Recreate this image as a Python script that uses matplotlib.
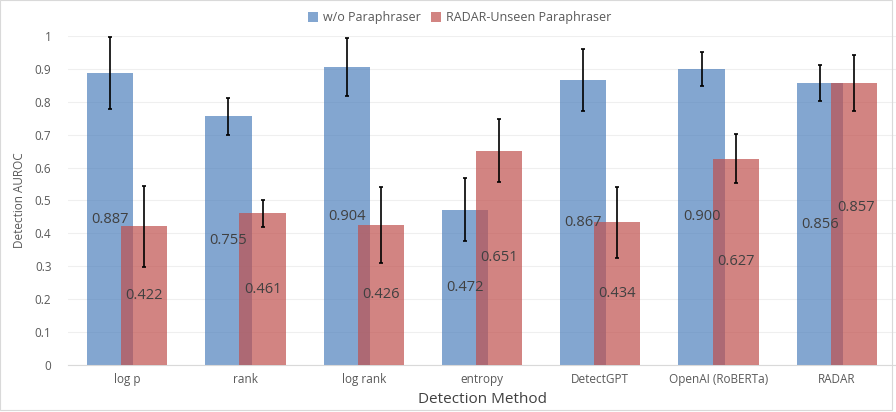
import numpy as np
import matplotlib.pyplot as plt
from matplotlib.patches import Rectangle

plt.rcParams["font.family"] = ["Open Sans", "DejaVu Sans"]

methods = ["log p", "rank", "log rank", "entropy", "DetectGPT", "OpenAI (RoBERTa)", "RADAR"]
wo_para = [0.887, 0.755, 0.904, 0.472, 0.867, 0.900, 0.856]
wo_para_err = [0.108, 0.055, 0.088, 0.095, 0.094, 0.052, 0.055]
radar_unseen = [0.422, 0.461, 0.426, 0.651, 0.434, 0.627, 0.857]
radar_unseen_err = [0.123, 0.041, 0.115, 0.096, 0.108, 0.075, 0.086]

blue = "#4F81BD"
red = "#C0504D"
text_col = "#404040"

fig = plt.figure(figsize=(8.96, 4.12), dpi=100)
ax = fig.add_axes([0.076, 0.114, 0.924, 0.799])

x = np.arange(len(methods))
w = 0.39
off = 0.144

ax.bar(x - off, wo_para, w, color=blue, alpha=0.7, label="w/o Paraphraser", zorder=2)
ax.bar(x + off, radar_unseen, w, color=red, alpha=0.7, label="RADAR-Unseen Paraphraser", zorder=3)
ax.errorbar(x - off, wo_para, yerr=wo_para_err, fmt="none", ecolor="black",
            elinewidth=1.2, capsize=1.5, capthick=1.2, zorder=4)
ax.errorbar(x + off, radar_unseen, yerr=radar_unseen_err, fmt="none", ecolor="black",
            elinewidth=1.2, capsize=1.5, capthick=1.2, zorder=4)

for xi, v in zip(x - off, wo_para):
    ax.text(xi, v / 2, f"{v:.3f}", ha="center", va="center", fontsize=10.5, color=text_col, zorder=5)
for xi, v, vb in zip(x + off, radar_unseen, wo_para):
    yl = v / 2
    # labels that would collide with the blue one get pushed up, like Excel does
    if abs(v - vb) / 2 < 0.04:
        yl += 0.05
    ax.text(xi + 0.02 * (abs(v - vb) / 2 < 0.04), yl, f"{v:.3f}", ha="center", va="center",
            fontsize=10.5, color=text_col, zorder=5)

ax.set_xlim(-0.5, len(methods) - 0.5)
ax.set_ylim(0, 1)
ax.set_yticks(np.arange(0, 1.01, 0.1))
ax.set_yticklabels(["0", "0.1", "0.2", "0.3", "0.4", "0.5", "0.6", "0.7", "0.8", "0.9", "1"])
ax.set_xticks(x)
ax.set_xticklabels(methods)
ax.tick_params(axis="both", length=0, labelsize=8.5, labelcolor="#595959")
ax.tick_params(axis="y", pad=12)
ax.tick_params(axis="x", pad=6)
ax.grid(axis="y", color="#EFEFEF", linewidth=0.8, zorder=0)
ax.set_axisbelow(True)
for s in ["top", "right", "left"]:
    ax.spines[s].set_visible(False)
ax.spines["bottom"].set_color("#D9D9D9")

ax.set_ylabel("Detection AUROC", fontsize=8.5, color="#595959", labelpad=6)
ax.set_xlabel("Detection Method", fontsize=11, color=text_col, labelpad=4)

fig.legend(loc="upper center", bbox_to_anchor=(0.513, 1.0), ncol=2, frameon=False,
           fontsize=9, labelcolor="#595959", handlelength=0.8, handleheight=0.8,
           handletextpad=0.4, columnspacing=0.8)

fig.patches.append(Rectangle((0.0, 0.005), 0.996, 0.994, transform=fig.transFigure,
                             fill=False, edgecolor="#D9D9D9", linewidth=0.8))

fig.savefig("out.png", dpi=100)
